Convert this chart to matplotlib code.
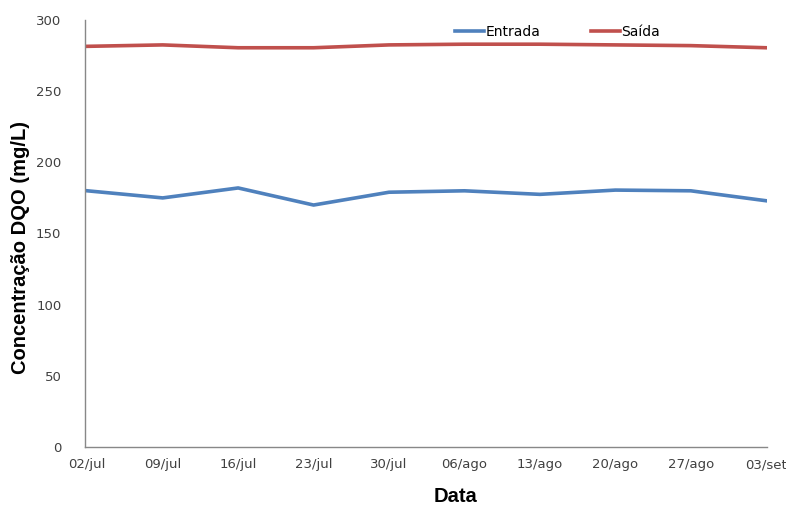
import matplotlib
matplotlib.use('Agg')
import matplotlib.pyplot as plt

# Data
datas = ['02/jul', '09/jul', '16/jul', '23/jul', '30/jul',
         '06/ago', '13/ago', '20/ago', '27/ago', '03/set']
entrada = [180, 175, 182, 170, 179, 180, 177.5, 180.5, 180, 173]
saida = [281.5, 282.5, 280.5, 280.5, 282.5, 283, 283, 282.5, 282, 280.5]

fig = plt.figure(figsize=(7.86, 5.05), dpi=100)
ax = fig.add_axes([85 / 786, 1 - 447 / 505, (767 - 85) / 786, 427 / 505])

x = range(len(datas))
ax.plot(x, entrada, color='#4F81BD', linewidth=2.6, label='Entrada')
ax.plot(x, saida, color='#C0504D', linewidth=2.6, label='Saída')

ax.set_ylim(0, 300)
ax.set_yticks(range(0, 301, 50))
ax.set_xlim(-0.03, 9.01)
ax.set_xticks(list(x))
ax.set_xticklabels(datas)

for s in ['top', 'right']:
    ax.spines[s].set_visible(False)
for s in ['left', 'bottom']:
    ax.spines[s].set_color('#888888')
    ax.spines[s].set_linewidth(1.0)
ax.tick_params(length=0, labelsize=9.5, labelcolor='#404040')
ax.tick_params(axis='x', pad=8)
ax.tick_params(axis='y', pad=17)

ax.set_ylabel('Concentração DQO (mg/L)', fontsize=14.5, fontweight='bold',
              family='Liberation Sans')
ax.yaxis.set_label_coords(-0.08, 0.467)
ax.set_xlabel('Data', fontsize=14.5, fontweight='bold', family='Liberation Sans')
ax.xaxis.set_label_coords(0.543, -0.094)

ax.legend(loc='center left', bbox_to_anchor=(0.543, 0.972), ncol=2, frameon=False,
          fontsize=10, handlelength=2.1, handletextpad=0.1, columnspacing=3.6,
          borderpad=0, borderaxespad=0)

fig.savefig('out.png', dpi=100)
